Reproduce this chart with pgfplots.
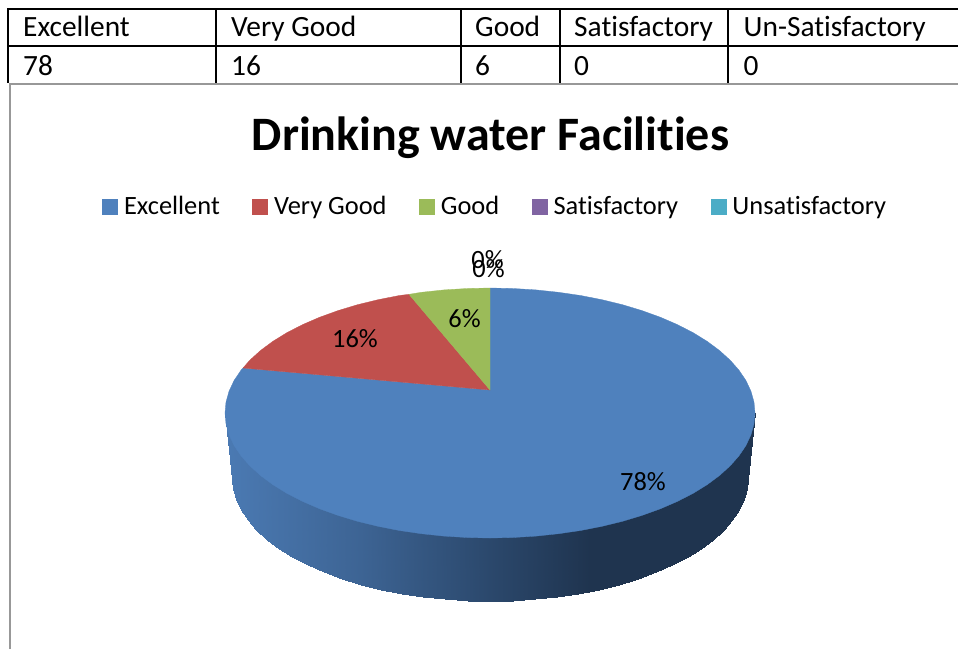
\documentclass[border=0pt]{standalone}
\usepackage{fontspec}
\setmainfont[Ligatures=NoCommon]{Carlito}
\usepackage{pgfplots}
\pgfplotsset{compat=1.18}

\definecolor{pieblue}{HTML}{4F81BD}
\definecolor{piered}{HTML}{C0504D}
\definecolor{piegreen}{HTML}{9BBB59}
\definecolor{piepurple}{HTML}{8064A2}
\definecolor{pieaqua}{HTML}{4BACC6}
\definecolor{framegray}{HTML}{989898}

\newcommand{\tabfont}{\fontsize{29.4}{32}\selectfont}
\newcommand{\lblfont}{\fontsize{26.4}{30}\selectfont}

\begin{document}
\begin{tikzpicture}
\useasboundingbox (0,0) rectangle (958pt,649pt);
\begin{axis}[
	width=958pt, height=649pt,
	scale only axis,
	hide axis,
	clip=false,
	xmin=0, xmax=958,
	ymin=0, ymax=649,
	y dir=reverse,
	% side wall of the pie, light on the left and dark from about x=590
	colormap={sidewall}{
		rgb255(0pt)=(75,122,179)
		rgb255(135pt)=(61,100,148)
		rgb255(265pt)=(43,72,108)
		rgb255(365pt)=(31,52,79)
		rgb255(530pt)=(31,52,79)
	},
	point meta min=225, point meta max=755,
	legend columns=5,
	legend style={
		at={(axis cs:102,206.5)}, anchor=west,
		draw=none, fill=none,
		inner sep=0pt,
		font=\lblfont,
		nodes={inner sep=0pt},
		/tikz/every odd column/.append style={column sep=6.5pt},
		/tikz/every even column/.append style={column sep=32.4pt},
	},
	legend image code/.code={\fill[#1] (0pt,-7.5pt) rectangle (15pt,7.5pt);},
]
% legend
\addlegendimage{pieblue}
\addlegendentry{Excellent}
\addlegendimage{piered}
\addlegendentry{Very Good}
\addlegendimage{piegreen}
\addlegendentry{Good}
\addlegendimage{piepurple}
\addlegendentry{Satisfactory}
\addlegendimage{pieaqua}
\addlegendentry{Unsatisfactory}

% side wall: upper row (tucked under the top face), then lower edge row
\addplot[forget plot, surf, shader=interp, mesh/rows=2, mesh/cols=37, point meta=x] coordinates {
	(225,413) (226,419.9) (229,430.7) (234,441.4) (241,451.8) (249.8,461.8)
	(260.5,471.5) (272.9,480.7) (287,489.4) (302.6,497.4) (319.7,504.8) (338,511.4)
	(357.5,517.3) (378,522.3) (399.4,526.5) (421.4,529.7) (444,532.1) (466.9,533.5)
	(490,534) (513.1,533.5) (536,532.1) (558.6,529.7) (580.6,526.5) (602,522.3)
	(622.5,517.3) (642,511.4) (660.3,504.8) (677.4,497.4) (693,489.4) (707.1,480.7)
	(719.5,471.5) (730.2,461.8) (739,451.8) (746,441.4) (751,430.7) (754,419.9)
	(755,413)

	(232,478) (233,488.7) (235.9,499.4) (240.8,509.8) (247.6,520.1) (256.2,530)
	(266.6,539.5) (278.6,548.6) (292.4,557.1) (307.6,565) (324.2,572.2) (342,578.8)
	(361,584.5) (381,589.5) (401.8,593.6) (423.2,596.8) (445.2,599.1) (467.5,600.5)
	(490,601) (512.5,600.5) (534.8,599.1) (556.8,596.8) (578.2,593.6) (599,589.5)
	(619,584.5) (638,578.8) (655.8,572.2) (672.4,565) (687.6,557.1) (701.4,548.6)
	(713.4,539.5) (723.8,530) (732.4,520.1) (739.2,509.8) (744.1,499.4) (747,488.7)
	(748,478)
};

% Excellent 78
\addplot[forget plot, draw=pieblue, line width=0.3pt, fill=pieblue] coordinates {
	(490,390) (490,288) (513.1,288.5) (536,289.9) (558.6,292.3) (580.6,295.5)
	(602,299.7) (622.5,304.7) (642,310.6) (660.3,317.2) (677.4,324.6) (693,332.6)
	(707.1,341.3) (719.5,350.5) (730.2,360.2) (739,370.2) (746,380.6) (751,391.3)
	(754,402.1) (755,413) (754,423.9) (751,434.7) (746,445.4) (739,455.8)
	(730.2,465.8) (719.5,475.5) (707.1,484.7) (693,493.4) (677.4,501.4) (660.3,508.8)
	(642,515.4) (622.5,521.3) (602,526.3) (580.6,530.5) (558.6,533.7) (536,536.1)
	(513.1,537.5) (490,538) (466.9,537.5) (444,536.1) (421.4,533.7) (399.4,530.5)
	(378,526.3) (357.5,521.3) (338,515.4) (319.7,508.8) (302.6,501.4) (287,493.4)
	(272.9,484.7) (260.5,475.5) (249.8,465.8) (241,455.8) (234,445.4) (229,434.7)
	(226,423.9) (225,413) (226,402.1) (229,391.3) (234,380.6) (241,370.2) (243,368)
} --cycle;

% Very Good 16
\addplot[forget plot, draw=piered, line width=0.3pt, fill=piered] coordinates {
	(490,390) (243,368) (249.8,360.2) (260.5,350.5) (272.9,341.3) (287,332.6)
	(302.6,324.6) (319.7,317.2) (338,310.6) (357.5,304.7) (378,299.7) (399.4,295.5)
	(409,294.3)
} --cycle;

% Good 6
\addplot[forget plot, draw=piegreen, line width=0.3pt, fill=piegreen] coordinates {
	(490,390) (409,294.3) (421.4,292.3) (444,289.9) (466.9,288.5) (490,288)
} --cycle;

% slice labels
\node[anchor=base, inner sep=0pt, font=\lblfont] at (axis cs:643,490) {78\%};
\node[anchor=base, inner sep=0pt, font=\lblfont] at (axis cs:355,347) {16\%};
\node[anchor=base, inner sep=0pt, font=\lblfont] at (axis cs:464.5,327) {6\%};
\node[anchor=base, inner sep=0pt, font=\lblfont] at (axis cs:487.5,268) {0\%};
\node[anchor=base, inner sep=0pt, font=\lblfont] at (axis cs:488.5,277) {0\%};

% title
\node[anchor=base, inner sep=0pt, font=\fontsize{48}{52}\selectfont\bfseries] at (axis cs:490.5,150) {Drinking water Facilities};

% chart frame
\draw[framegray, line width=2pt] (axis cs:10,649) -- (axis cs:10,84) -- (axis cs:958,84);

% table rules
\draw[black, line width=2pt] (axis cs:8,9) -- (axis cs:958,9);
\draw[black, line width=2pt] (axis cs:8,46) -- (axis cs:958,46);
\foreach \xr in {8,216,461,560,728} {
	\edef\tmp{\noexpand\draw[black, line width=2pt] (axis cs:\xr,8) -- (axis cs:\xr,83);}
	\tmp
}

% table text
\node[anchor=base west, inner sep=0pt, font=\tabfont] at (axis cs:23,36) {Excellent};
\node[anchor=base west, inner sep=0pt, font=\tabfont] at (axis cs:231,36) {Very Good};
\node[anchor=base west, inner sep=0pt, font=\tabfont] at (axis cs:475,36) {Good};
\node[anchor=base west, inner sep=0pt, font=\tabfont] at (axis cs:574,36) {Satisfactory};
\node[anchor=base west, inner sep=0pt, font=\tabfont] at (axis cs:743.5,36) {Un-Satisfactory};
\node[anchor=base west, inner sep=0pt, font=\tabfont] at (axis cs:23,75) {78};
\node[anchor=base west, inner sep=0pt, font=\tabfont] at (axis cs:231,75) {16};
\node[anchor=base west, inner sep=0pt, font=\tabfont] at (axis cs:475,75) {6};
\node[anchor=base west, inner sep=0pt, font=\tabfont] at (axis cs:574,75) {0};
\node[anchor=base west, inner sep=0pt, font=\tabfont] at (axis cs:743.5,75) {0};
\end{axis}
\end{tikzpicture}
\end{document}
